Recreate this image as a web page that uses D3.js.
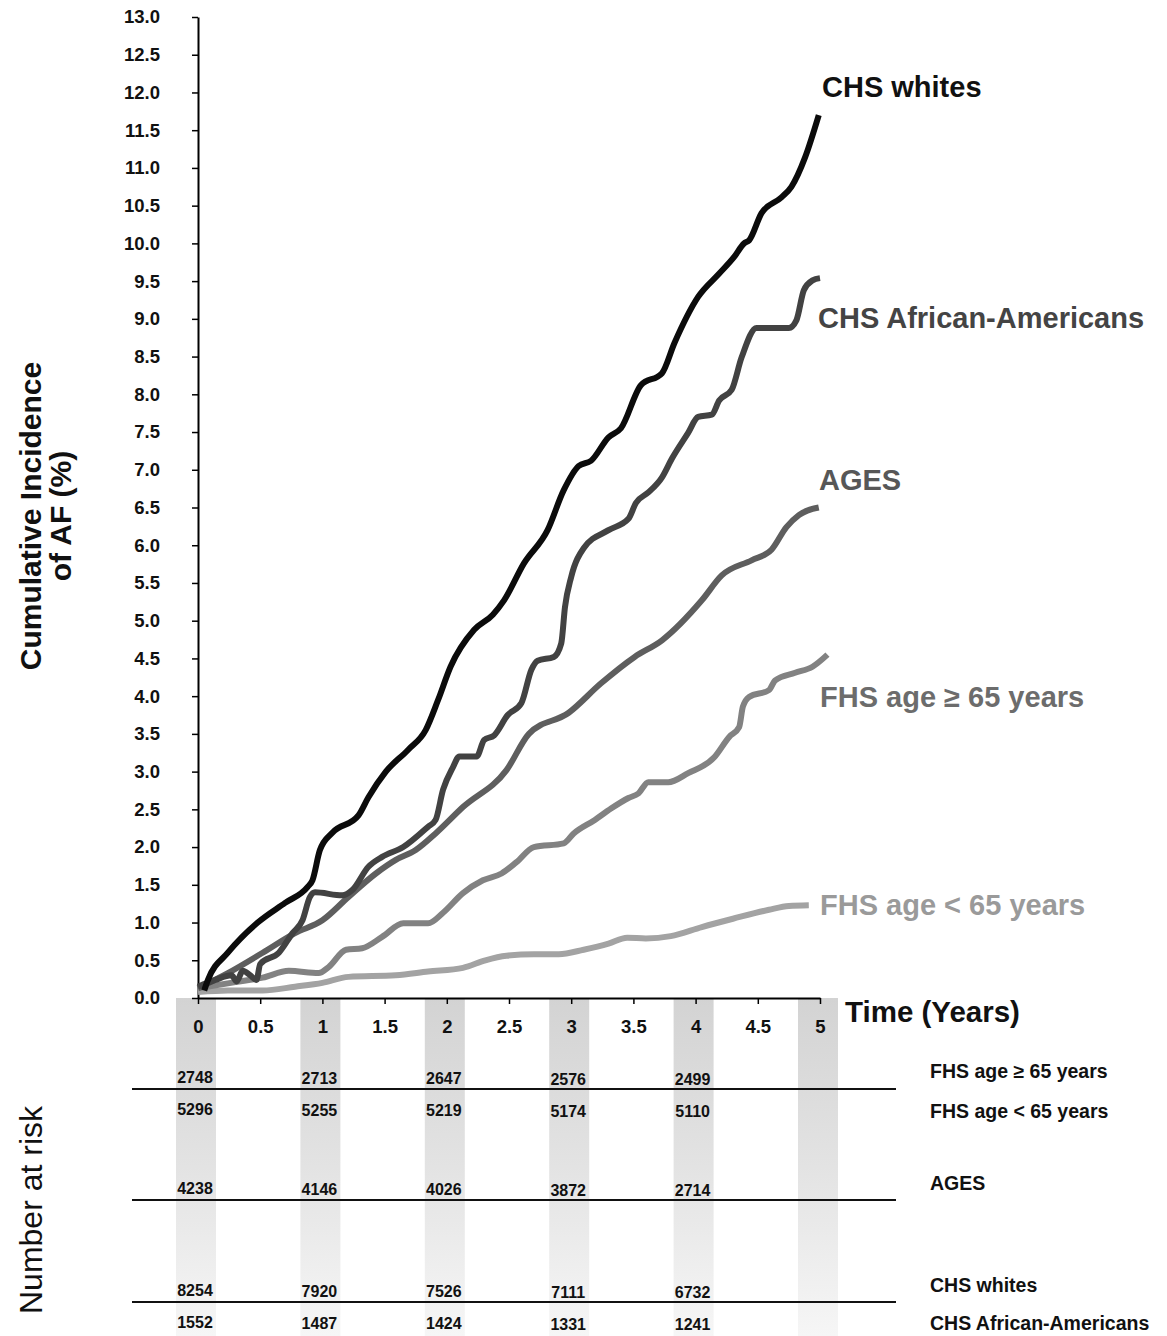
<!DOCTYPE html>
<html>
<head>
<meta charset="utf-8">
<script src="https://cdn.jsdelivr.net/npm/d3@7"></script>
<style>
	body { margin: 0; background: #fff; }
	svg { display: block; font-family: "Liberation Sans", Arial, Helvetica, sans-serif; }
</style>
</head>
<body>
<svg id="visualizacion"></svg>
<script>
// Datos: [años, incidencia acumulada %]
const chsBlancos = [[0.05,0.1],[0.08,0.24],[0.24,0.6],[0.48,1.0],[0.7,1.26],[0.88,1.47],[0.92,1.56],[0.98,1.96],[1.08,2.19],[1.29,2.42],[1.37,2.66],[1.51,3.0],[1.69,3.29],[1.83,3.55],[1.93,3.95],[2.03,4.39],[2.22,4.88],[2.37,5.08],[2.46,5.27],[2.62,5.76],[2.81,6.2],[2.94,6.73],[3.06,7.05],[3.16,7.12],[3.3,7.43],[3.4,7.55],[3.56,8.12],[3.73,8.28],[3.83,8.68],[4.02,9.29],[4.19,9.6],[4.31,9.82],[4.39,10.0],[4.43,10.04],[4.53,10.4],[4.69,10.61],[4.77,10.75],[4.88,11.14],[4.99,11.7]];

const chsAfroamericanos = [[0,0.15],[0.14,0.24],[0.27,0.3],[0.31,0.22],[0.36,0.36],[0.42,0.3],[0.47,0.24],[0.5,0.45],[0.65,0.6],[0.76,0.86],[0.84,1.03],[0.9,1.34],[0.94,1.4],[1.16,1.36],[1.24,1.43],[1.37,1.74],[1.48,1.87],[1.65,2.0],[1.85,2.27],[1.91,2.36],[1.97,2.76],[2.05,3.06],[2.1,3.2],[2.24,3.2],[2.3,3.42],[2.38,3.48],[2.49,3.75],[2.6,3.91],[2.68,4.35],[2.73,4.47],[2.86,4.52],[2.92,4.7],[2.95,5.18],[3.0,5.58],[3.1,5.96],[3.3,6.2],[3.46,6.35],[3.52,6.56],[3.62,6.7],[3.73,6.9],[3.81,7.15],[3.94,7.49],[4.02,7.7],[4.13,7.73],[4.19,7.92],[4.29,8.06],[4.37,8.49],[4.49,8.88],[4.75,8.88],[4.81,8.98],[4.87,9.38],[4.94,9.51],[5.0,9.54]];

const ages = [[0,0.13],[0.24,0.33],[0.52,0.6],[0.78,0.86],[1.0,1.03],[1.21,1.34],[1.43,1.65],[1.59,1.83],[1.75,1.96],[1.91,2.18],[2.13,2.53],[2.48,3.02],[2.66,3.5],[2.98,3.78],[3.24,4.17],[3.51,4.52],[3.73,4.74],[4.05,5.27],[4.21,5.6],[4.45,5.8],[4.61,5.94],[4.73,6.24],[4.83,6.4],[4.99,6.5]];

const fhsMayor65 = [[0,0.13],[0.3,0.21],[0.52,0.27],[0.73,0.36],[0.97,0.33],[1.05,0.41],[1.19,0.64],[1.32,0.66],[1.48,0.81],[1.65,0.99],[1.85,0.99],[1.97,1.13],[2.13,1.39],[2.29,1.56],[2.44,1.65],[2.56,1.8],[2.7,2.0],[2.94,2.05],[3.02,2.18],[3.19,2.36],[3.32,2.51],[3.46,2.65],[3.54,2.71],[3.62,2.86],[3.78,2.86],[3.94,2.98],[4.15,3.19],[4.27,3.46],[4.35,3.59],[4.38,3.86],[4.43,3.99],[4.59,4.08],[4.64,4.21],[4.8,4.31],[4.94,4.39],[5.06,4.55]];

const fhsMenor65 = [[0,0.08],[0.24,0.1],[0.52,0.1],[0.78,0.15],[1.0,0.2],[1.21,0.28],[1.59,0.3],[1.85,0.35],[2.13,0.4],[2.31,0.5],[2.48,0.56],[2.7,0.58],[2.9,0.58],[3.1,0.64],[3.3,0.72],[3.45,0.8],[3.6,0.79],[3.8,0.82],[4.05,0.94],[4.3,1.05],[4.59,1.17],[4.75,1.22],[4.91,1.23]];

// Ticks
const ticksIncidencia = [0,0.5,1,1.5,2,2.5,3,3.5,4,4.5,5,5.5,6,6.5,7,7.5,8,8.5,9,9.5,10,10.5,11,11.5,12,12.5,13];
const ticksTiempo = [0,0.5,1,1.5,2,2.5,3,3.5,4,4.5,5];
const aniosBanda = [0,1,2,3,4,5];

// Número en riesgo
const aniosRiesgo = [0,1,2,3,4];
const riesgoFhsMayor65 = [2748,2713,2647,2576,2499];
const riesgoFhsMenor65 = [5296,5255,5219,5174,5110];
const riesgoAges = [4238,4146,4026,3872,2714];
const riesgoChsBlancos = [8254,7920,7526,7111,6732];
const riesgoChsAfro = [1552,1487,1424,1331,1241];

const WIDTH = 1167,
	HEIGHT = 1336;

const margins = {
	top: 17,
	bottom: 338,
	left: 198,
	right: 347
};

const svg = d3.select("#visualizacion")
	.attr("width", WIDTH)
	.attr("height", HEIGHT);

const escalaTiempo = d3.scaleLinear()
	.domain([0, 5])
	.range([margins.left, WIDTH - margins.right]);

const escalaIncidencia = d3.scaleLinear()
	.domain([0, 13])
	.range([HEIGHT - margins.bottom, margins.top]);

const y0 = HEIGHT - margins.bottom;

// Bandas grises con degradado
const grad = svg.append("defs")
	.append("linearGradient")
	.attr("id", "degradado")
	.attr("gradientUnits", "userSpaceOnUse")
	.attr("x1", 0).attr("x2", 0)
	.attr("y1", y0).attr("y2", HEIGHT);
grad.append("stop").attr("offset", 0).attr("stop-color", "#d3d3d3");
grad.append("stop").attr("offset", 0.5).attr("stop-color", "#e3e3e3");
grad.append("stop").attr("offset", 1).attr("stop-color", "#f6f6f6");

svg.append("g")
	.selectAll("rect")
	.data(aniosBanda)
	.join("rect")
	.attr("x", d => escalaTiempo(d) - 22)
	.attr("y", y0)
	.attr("width", 40)
	.attr("height", HEIGHT - y0)
	.attr("fill", "url(#degradado)");

// Ejes
const ejeIncidencia = d3.axisLeft(escalaIncidencia)
	.tickValues(ticksIncidencia)
	.tickFormat(d3.format(".1f"))
	.tickSize(6)
	.tickSizeOuter(0)
	.tickPadding(32);

const contenedorEjeY = svg.append("g")
	.attr("transform", `translate(${margins.left} 0)`)
	.call(ejeIncidencia);

contenedorEjeY.select(".domain").attr("stroke-width", 2);
contenedorEjeY.selectAll(".tick line").attr("stroke-width", 1.5);
contenedorEjeY.selectAll("text")
	.attr("font-size", 18.5)
	.attr("font-weight", "bold")
	.attr("fill", "#111");

const ejeTiempo = d3.axisBottom(escalaTiempo)
	.tickValues(ticksTiempo)
	.tickFormat(d => String(d))
	.tickSize(6)
	.tickSizeOuter(0);

const contenedorEjeX = svg.append("g")
	.attr("transform", `translate(0 ${y0})`)
	.call(ejeTiempo);

contenedorEjeX.select(".domain").attr("stroke-width", 2);
contenedorEjeX.selectAll(".tick line").attr("stroke-width", 1.5);
contenedorEjeX.selectAll("text")
	.attr("y", 35)
	.attr("dy", 0)
	.attr("font-size", 18.5)
	.attr("font-weight", "bold")
	.attr("fill", "#111");

svg.append("text")
	.attr("x", 845)
	.attr("y", y0 + 24)
	.attr("font-size", 29.5)
	.attr("font-weight", "bold")
	.attr("fill", "#111")
	.text("Time (Years)");

// Títulos verticales
const titulo = svg.append("text")
	.attr("transform", `translate(41 ${516}) rotate(-90)`)
	.attr("text-anchor", "middle")
	.attr("font-size", 30)
	.attr("font-weight", "bold")
	.attr("fill", "#111");
titulo.append("tspan").attr("x", 0).attr("dy", 0).text("Cumulative Incidence");
titulo.append("tspan").attr("x", 0).attr("dy", 30).text("of AF (%)");

svg.append("text")
	.attr("transform", `translate(42 1210) rotate(-90)`)
	.attr("text-anchor", "middle")
	.attr("font-size", 32)
	.attr("fill", "#111")
	.text("Number at risk");

// Curvas
const series = [
	{ nombre: "FHS age < 65 years", datos: fhsMenor65, color: "#a3a3a3", texto: "#9a9a9a", lx: 820, ly: 915 },
	{ nombre: "FHS age \u2265 65 years", datos: fhsMayor65, color: "#828282", texto: "#6c6c6c", lx: 820, ly: 707 },
	{ nombre: "AGES", datos: ages, color: "#5e5e5e", texto: "#575757", lx: 819, ly: 490 },
	{ nombre: "CHS African-Americans", datos: chsAfroamericanos, color: "#424242", texto: "#444", lx: 818, ly: 328 },
	{ nombre: "CHS whites", datos: chsBlancos, color: "#0b0b0b", texto: "#111", lx: 822, ly: 97 }
];

const linea = d3.line()
	.x(d => escalaTiempo(d[0]))
	.y(d => escalaIncidencia(d[1]))
	.curve(d3.curveMonotoneX);

svg.append("g")
	.selectAll("path")
	.data(series)
	.join("path")
	.attr("d", d => linea(d.datos))
	.attr("fill", "none")
	.attr("stroke", d => d.color)
	.attr("stroke-width", 6)
	.attr("stroke-linejoin", "round");

svg.append("g")
	.selectAll("text")
	.data(series)
	.join("text")
	.attr("x", d => d.lx)
	.attr("y", d => d.ly)
	.attr("font-size", 29)
	.attr("font-weight", "bold")
	.attr("fill", d => d.texto)
	.text(d => d.nombre);

// Tabla de número en riesgo
const filas = [
	{ nombre: "FHS age \u2265 65 years", valores: riesgoFhsMayor65, yNum: 1083, yNombre: 1078 },
	{ nombre: "FHS age < 65 years", valores: riesgoFhsMenor65, yNum: 1115, yNombre: 1118 },
	{ nombre: "AGES", valores: riesgoAges, yNum: 1194, yNombre: 1190 },
	{ nombre: "CHS whites", valores: riesgoChsBlancos, yNum: 1296, yNombre: 1292 },
	{ nombre: "CHS African-Americans", valores: riesgoChsAfro, yNum: 1328, yNombre: 1330 }
];

const contenedorTabla = svg.append("g");

filas.forEach(fila => {
	contenedorTabla.append("g")
		.selectAll("text")
		.data(fila.valores)
		.join("text")
		.attr("x", (_, i) => escalaTiempo(aniosRiesgo[i]) - 3)
		.attr("y", (_, i) => fila.yNum + i * 0.6)
		.attr("text-anchor", "middle")
		.attr("font-size", 16)
		.attr("font-weight", "bold")
		.attr("fill", "#111")
		.text(d => d);

	contenedorTabla.append("text")
		.attr("x", 930)
		.attr("y", fila.yNombre)
		.attr("font-size", 19.5)
		.attr("font-weight", "bold")
		.attr("fill", "#111")
		.text(fila.nombre);
});

// Líneas separadoras
contenedorTabla.selectAll("line")
	.data([1089, 1200, 1302])
	.join("line")
	.attr("x1", 132)
	.attr("x2", 896)
	.attr("y1", d => d)
	.attr("y2", d => d)
	.attr("stroke", "#111")
	.attr("stroke-width", 2);
</script>
</body>
</html>
